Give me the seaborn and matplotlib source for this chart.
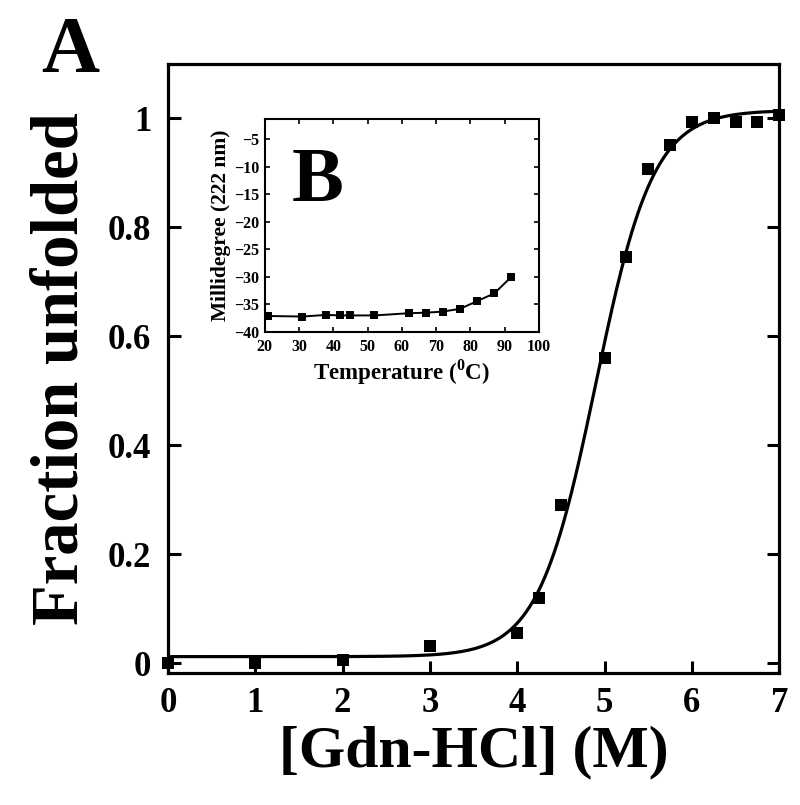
import numpy as np
import pandas as pd
import matplotlib
matplotlib.use("Agg")
import matplotlib.pyplot as plt
import seaborn as sns

# ---- main panel (A): chemical denaturation ----
gdn_conc = [0, 1, 2, 3, 4, 4.25, 4.5, 5, 5.25, 5.5, 5.75, 6, 6.25, 6.5, 6.75, 7]
fraction_unfolded = [0.0, 0.0, 0.006, 0.031, 0.055, 0.12, 0.29, 0.56, 0.745,
                     0.908, 0.952, 0.993, 1.0, 0.993, 0.993, 1.007]
# two-state (sigmoidal) fit parameters
fit_bottom = 0.012
fit_top = 1.015
fit_mid = 4.9
fit_slope = 0.33
x_ticks = [0, 1, 2, 3, 4, 5, 6, 7]
y_ticks = [0, 0.2, 0.4, 0.6, 0.8, 1]
y_ticklabels = ["0", "0.2", "0.4", "0.6", "0.8", "1"]

# ---- inset (B): thermal denaturation ----
temp_c = [21, 31, 38, 42, 45, 52, 62, 67, 72, 77, 82, 87, 92]
millidegree = [-37.1, -37.2, -36.9, -37.0, -37.0, -37.0, -36.6, -36.5,
               -36.3, -35.8, -34.4, -33.0, -30.0]
inset_xticks = [20, 30, 40, 50, 60, 70, 80, 90, 100]
inset_yticks = [-40, -35, -30, -25, -20, -15, -10, -5]

sns.set_theme(style="ticks")
plt.rcParams["font.family"] = ["Liberation Serif", "DejaVu Serif"]
plt.rcParams["font.weight"] = "bold"
plt.rcParams["text.color"] = "black"
plt.rcParams["axes.labelcolor"] = "black"
plt.rcParams["xtick.color"] = "black"
plt.rcParams["ytick.color"] = "black"
plt.rcParams["mathtext.fontset"] = "custom"
plt.rcParams["mathtext.rm"] = "Liberation Serif:bold"
plt.rcParams["mathtext.bf"] = "Liberation Serif:bold"

fig = plt.figure(figsize=(8.0, 8.05), dpi=100)
fig.patch.set_facecolor("white")

ax = fig.add_axes([0.21, 0.164, 0.764, 0.7565])
xs = np.linspace(0, 7, 400)
fit_df = pd.DataFrame({"x": xs,
                       "y": fit_bottom + (fit_top - fit_bottom) / (1 + np.exp((fit_mid - xs) / fit_slope))})
data_df = pd.DataFrame({"x": gdn_conc, "y": fraction_unfolded})
sns.lineplot(data=fit_df, x="x", y="y", ax=ax, color="black", lw=2.3, zorder=2)
sns.scatterplot(data=data_df, x="x", y="y", ax=ax, marker="s", s=80,
                color="black", edgecolor="black", linewidth=0, zorder=3, clip_on=False)
ax.set_xlim(0, 7)
ax.set_ylim(-0.018, 1.10)
ax.set_xticks(x_ticks)
ax.set_yticks(y_ticks)
ax.set_yticklabels(y_ticklabels)
for s in ax.spines.values():
    s.set_linewidth(2.3)
    s.set_color("black")
ax.tick_params(axis="both", direction="in", length=9, width=2.2, color="black",
               labelsize=25, labelcolor="black")
ax.tick_params(axis="y", right=True, pad=12)
ax.tick_params(axis="x", top=False, pad=10)
ax.set_xlabel("[Gdn-HCl] (M)", fontsize=43, fontweight="bold", labelpad=4, color="black")
ax.set_ylabel("Fraction unfolded", fontsize=48, fontweight="bold", labelpad=12, color="black")
for lab in ax.get_xticklabels() + ax.get_yticklabels():
    lab.set_fontweight("bold")

fig.text(70 / 800, 1 - 52 / 805, "A", fontsize=58, fontweight="bold",
         ha="center", va="center", color="black")

# inset
axi = fig.add_axes([0.331, 0.5876, 0.3425, 0.2644])
inset_df = pd.DataFrame({"T": temp_c, "mdeg": millidegree})
sns.lineplot(data=inset_df, x="T", y="mdeg", ax=axi, color="black", lw=1.4,
             marker="s", markersize=5.5, markeredgewidth=0, zorder=3)
axi.set_xlim(20, 100)
axi.set_ylim(-40, -1.4)
axi.set_xticks(inset_xticks)
axi.set_yticks(inset_yticks)
for s in axi.spines.values():
    s.set_linewidth(1.5)
    s.set_color("black")
axi.tick_params(axis="both", direction="in", length=3.5, width=1.2, color="black",
                labelsize=11.5, labelcolor="black", top=True, right=True)
axi.tick_params(axis="x", pad=5)
axi.tick_params(axis="y", pad=4)
for lab in axi.get_xticklabels() + axi.get_yticklabels():
    lab.set_fontweight("bold")
axi.set_xlabel(r"Temperature ($^{0}$C)", fontsize=16.5, fontweight="bold", labelpad=2, color="black")
axi.set_ylabel("Millidegree (222 nm)", fontsize=15.5, fontweight="bold", labelpad=2, color="black")
axi.text(0.193, 0.70, "B", transform=axi.transAxes, fontsize=56,
         fontweight="bold", ha="center", va="center", color="black")

fig.savefig("out.png", dpi=100, facecolor="white")
